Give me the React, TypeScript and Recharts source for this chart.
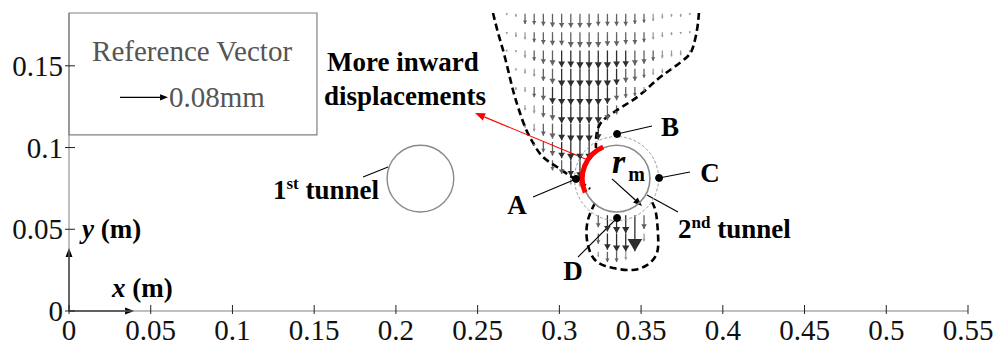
import React from 'react';
import {
  ComposedChart, XAxis, YAxis, Line, Scatter, ErrorBar,
  ReferenceLine, ReferenceDot, ReferenceArea,
} from 'recharts';

const W = 997;
const H = 349;
const X_MAX = 0.55;
const Y_MAX = 0.1823;
const PX_PER_M = (W - 69 - 29) / X_MAX;
const FONT = '"Liberation Serif", "Times New Roman", serif';

const X_TICKS = [0, 0.05, 0.1, 0.15, 0.2, 0.25, 0.3, 0.35, 0.4, 0.45, 0.5, 0.55];
const Y_TICKS = [0, 0.05, 0.1, 0.15];

// tunnels (m)
const TUNNEL_1 = { x: 0.215, y: 0.081 };
const TUNNEL_2 = { x: 0.335, y: 0.081 };
const TUNNEL_R = 0.0204;
const INFLUENCE_R = 0.0257;

// quiver grid (m) and vertical displacement (um, downward)
const COL_X = [0.2678, 0.2734, 0.279, 0.2846, 0.2902, 0.2958, 0.3014, 0.307, 0.3126, 0.3182, 0.3238,
  0.3294, 0.335, 0.3406, 0.3462, 0.3518, 0.3574, 0.363, 0.3686, 0.3742, 0.3798];
const ROW_Y = [0.1818, 0.1706, 0.1594, 0.1482, 0.137, 0.1258, 0.1146, 0.1034, 0.0922, 0.081,
  0.0698, 0.0586, 0.0474, 0.0362];

const _ = null;
const U_R0 = [2, 5, 17, 18, 20, 22, 23, 23, 23, 23, 20, 20, 20, 20, 17, 15, 12, 8, 5, 5, 2];
const U_R1 = [3, 8, 12, 17, 20, 22, 22, 25, 25, 25, 25, 23, 23, 20, 20, 17, 12, 8, 5, 3, 2];
const U_R2 = [2, 3, 12, 17, 22, 25, 28, 28, 30, 30, 30, 30, 28, 27, 25, 22, 17, 13, 10, 8, 3];
const U_R3 = [_, 3, 8, 13, 20, 25, 30, 30, 30, 30, 30, 30, 27, 23, 20, 15, 10, 7, 3, _, _];
const U_R4 = [_, 5, 8, 17, 22, 28, 30, 30, 30, 30, 30, 28, 22, 18, 15, 8, _, _, _, _, _];
const U_R5 = [_, _, 8, 13, 20, 25, 30, 30, 30, 30, 30, 25, 15, _, _, _, _, _, _, _, _];
const U_R6 = [_, _, 7, 13, 20, 25, 28, 30, 30, 30, 27, _, _, _, _, _, _, _, _, _, _];
const U_R7 = [_, _, _, 7, 17, 23, 27, 30, 30, 30, _, _, _, _, _, _, _, _, _, _, _];
const U_R8 = [_, _, _, _, _, 17, 23, 27, 30, _, _, _, _, _, _, _, _, _, _, _, _];
const U_R9 = [_, _, _, _, _, _, _, 10, 13, _, _, _, _, _, _, _, _, _, _, _, _];
const U_R10 = [_, _, _, _, _, _, _, _, _, _, _, _, _, _, _, _, _, _, _, _, _];
const U_R11 = [_, _, _, _, _, _, _, _, _, _, 20, 27, 30, 30, 60, 23, _, _, _, _, _];
const U_R12 = [_, _, _, _, _, _, _, _, _, _, 17, 27, 30, 30, _, 13, _, _, _, _, _];
const U_R13 = [_, _, _, _, _, _, _, _, _, _, 8, 17, 17, 13, _, _, _, _, _, _, _];
const U_ROWS = [U_R0, U_R1, U_R2, U_R3, U_R4, U_R5, U_R6, U_R7, U_R8, U_R9, U_R10, U_R11, U_R12, U_R13];

// reference vector: 80 um drawn as 48 px
const PX_PER_UM = 48 / 80;
const M_PER_UM = PX_PER_UM / PX_PER_M;

const LEFT_CONTOUR = [
  { x: 0.2594, y: 0.1823 }, { x: 0.2625, y: 0.1701 }, { x: 0.2655, y: 0.1597 }, { x: 0.2686, y: 0.1475 },
  { x: 0.2716, y: 0.1352 }, { x: 0.2747, y: 0.1248 }, { x: 0.279, y: 0.1126 }, { x: 0.2839, y: 0.1028 },
  { x: 0.29, y: 0.0942 }, { x: 0.2986, y: 0.0881 }, { x: 0.3065, y: 0.0826 }, { x: 0.3139, y: 0.0783 },
  { x: 0.3188, y: 0.0746 },
];
const RIGHT_CONTOUR = [
  { x: 0.3854, y: 0.1823 }, { x: 0.3842, y: 0.1719 }, { x: 0.3818, y: 0.1615 }, { x: 0.3781, y: 0.1554 },
  { x: 0.3695, y: 0.1487 }, { x: 0.3597, y: 0.1414 }, { x: 0.3493, y: 0.1322 }, { x: 0.3383, y: 0.1248 },
  { x: 0.3292, y: 0.1187 }, { x: 0.3249, y: 0.1144 }, { x: 0.323, y: 0.1095 }, { x: 0.3224, y: 0.1046 },
  { x: 0.3224, y: 0.0997 },
];
const BOTTOM_CONTOUR = [
  { x: 0.3218, y: 0.0661 }, { x: 0.3175, y: 0.0557 }, { x: 0.3169, y: 0.0434 }, { x: 0.3218, y: 0.0312 },
  { x: 0.3328, y: 0.0263 }, { x: 0.3445, y: 0.0251 }, { x: 0.3536, y: 0.0281 }, { x: 0.3597, y: 0.0355 },
  { x: 0.3603, y: 0.0477 }, { x: 0.3591, y: 0.06 }, { x: 0.3567, y: 0.0667 },
];

const POINTS = [
  { name: 'A', x: 0.3102, y: 0.0808, lx: 0.2839, ly: 0.0697, tx: 0.2741, ty: 0.0593 },
  { name: 'B', x: 0.3353, y: 0.1083, lx: 0.3567, ly: 0.1132, tx: 0.3677, ty: 0.1071 },
  { name: 'C', x: 0.361, y: 0.0814, lx: 0.3799, ly: 0.085, tx: 0.3922, ty: 0.0789 },
  { name: 'D', x: 0.3353, y: 0.0569, lx: 0.3114, ly: 0.033, tx: 0.3084, ty: 0.019 },
];

type Arrow = { x: number; y: number; err: number[]; u: number };
const arrows: Arrow[] = [];
U_ROWS.forEach((row, r) =>
  row.forEach((u, c) => {
    if (u == null) return;
    const len = u * M_PER_UM;
    arrows.push({ x: COL_X[c], y: ROW_Y[r] - len, err: [0, len], u });
  }),
);
const TIERS = [
  { color: '#2e2e2e', data: arrows.filter((a) => a.u >= 27) },
  { color: '#626262', data: arrows.filter((a) => a.u >= 15 && a.u < 27) },
  { color: '#9c9c9c', data: arrows.filter((a) => a.u < 15) },
];

const headShape = (color: string) => (p: any) => {
  const L = p.payload.u * PX_PER_UM;
  const h = Math.max(2, 0.34 * L);
  const w = h * 0.6;
  return <polygon points={`${p.cx},${p.cy} ${p.cx - w},${p.cy - h} ${p.cx + w},${p.cy - h}`} fill={color} />;
};

const arrowShape = (color: string, head: number, sw = 1) => (p: any) => {
  const { x1, y1, x2, y2 } = p;
  const dx = x2 - x1;
  const dy = y2 - y1;
  const len = Math.hypot(dx, dy) || 1;
  const ux = dx / len;
  const uy = dy / len;
  const bx = x2 - ux * head;
  const by = y2 - uy * head;
  const hw = head * 0.38;
  return (
    <g>
      <line x1={x1} y1={y1} x2={bx} y2={by} stroke={color} strokeWidth={sw} />
      <polygon points={`${x2},${y2} ${bx - uy * hw},${by + ux * hw} ${bx + uy * hw},${by - ux * hw}`} fill={color} />
    </g>
  );
};

const note = (key: string, x: number, y: number, content: React.ReactNode, anchor = 'middle', size = 27, fill = '#000', weight = 'bold') => (
  <ReferenceDot
    key={key}
    x={x}
    y={y}
    r={0}
    ifOverflow="visible"
    shape={(p: any) => (
      <text x={p.cx} y={p.cy} textAnchor={anchor} fontFamily={FONT} fontSize={size} fontWeight={weight} fill={fill}>
        {content}
      </text>
    )}
  />
);

const BottomTick = (p: any) => (
  <g>
    <line x1={p.x} x2={p.x} y1={p.y - 6} y2={p.y + 3} stroke="#222" />
    <text x={p.x} y={p.y + 29} textAnchor="middle" fontFamily={FONT} fontSize={29} fill="#111">{p.payload.value}</text>
  </g>
);
const LeftTick = (p: any) => (
  <g>
    <line x1={p.x - 4} x2={p.x + 6} y1={p.y} y2={p.y} stroke="#222" />
    <text x={p.x - 6} y={p.y + 10} textAnchor="end" fontFamily={FONT} fontSize={29} fill="#111">{p.payload.value}</text>
  </g>
);
const TopTick = (p: any) => <line x1={p.x} x2={p.x} y1={p.y} y2={p.y + 6} stroke="#222" />;
const RightTick = (p: any) => <line x1={p.x} x2={p.x - 6} y1={p.y} y2={p.y} stroke="#222" />;

export default function App() {
  const pxR = TUNNEL_R * PX_PER_M;
  const pxInf = INFLUENCE_R * PX_PER_M;
  return (
    <div style={{ position: 'absolute', left: 0, top: 0, width: W, height: H, background: '#fff' }}>
      <ComposedChart width={W} height={H} margin={{ top: 13, right: 29, bottom: 0, left: 0 }}>
        <XAxis type="number" dataKey="x" domain={[0, X_MAX]} ticks={X_TICKS} allowDataOverflow height={38}
          tickSize={0} tickMargin={0} tickLine={false} axisLine={{ stroke: '#808080' }} tick={BottomTick} interval={0} />
        <XAxis xAxisId="top" orientation="top" type="number" dataKey="x" domain={[0, X_MAX]} ticks={X_TICKS} allowDataOverflow height={0}
          tickSize={0} tickMargin={0} tickLine={false} axisLine={{ stroke: '#000' }} tick={TopTick} interval={0} />
        <YAxis type="number" dataKey="y" domain={[0, Y_MAX]} ticks={Y_TICKS} allowDataOverflow width={69}
          tickSize={0} tickMargin={0} tickLine={false} axisLine={{ stroke: '#808080' }} tick={LeftTick} interval={0} />
        <YAxis yAxisId="right" orientation="right" type="number" dataKey="y" domain={[0, Y_MAX]} ticks={Y_TICKS} allowDataOverflow width={0}
          tickSize={0} tickMargin={0} tickLine={false} axisLine={{ stroke: '#000' }} tick={RightTick} interval={0} />

        <ReferenceArea x1={0} x2={0.1517} y1={0.1077} y2={Y_MAX} fill="#fff" fillOpacity={1} stroke="#808080" strokeWidth={1.2} ifOverflow="visible" />

        {TIERS.map((t, i) => (
          <Scatter key={i} data={t.data} dataKey="y" isAnimationActive={false} shape={headShape(t.color)}>
            <ErrorBar dataKey="err" direction="y" width={0} stroke={t.color} strokeWidth={1.3} />
          </Scatter>
        ))}

        {[LEFT_CONTOUR, RIGHT_CONTOUR, BOTTOM_CONTOUR].map((c, i) => (
          <Line key={i} data={c} dataKey="y" type="natural" stroke="#000" strokeWidth={2.6} strokeDasharray="7 4"
            dot={false} activeDot={false} isAnimationActive={false} />
        ))}

        <ReferenceDot x={TUNNEL_1.x} y={TUNNEL_1.y} r={pxR} fill="none" stroke="#8a8a8a" strokeWidth={1.4} ifOverflow="visible" />
        <ReferenceDot x={TUNNEL_2.x} y={TUNNEL_2.y} r={pxR} fill="none" stroke="#8a8a8a" strokeWidth={1.6} ifOverflow="visible" />
        <ReferenceDot x={TUNNEL_2.x} y={TUNNEL_2.y} r={pxInf} fill="none" stroke="#9a9a9a" strokeWidth={1} strokeDasharray="3 2" ifOverflow="visible" />
        <ReferenceDot
          x={TUNNEL_2.x} y={TUNNEL_2.y} r={0} ifOverflow="visible"
          shape={(p: any) => {
            const r = pxR + 1;
            const a0 = (113 * Math.PI) / 180;
            const a1 = (204 * Math.PI) / 180;
            const sx = p.cx + r * Math.cos(a0);
            const sy = p.cy - r * Math.sin(a0);
            const ex = p.cx + r * Math.cos(a1);
            const ey = p.cy - r * Math.sin(a1);
            return <path d={`M${sx},${sy} A${r},${r} 0 0 0 ${ex},${ey}`} fill="none" stroke="#ff0000" strokeWidth={5} />;
          }}
        />

        {POINTS.map((pt) => (
          <ReferenceLine key={'l' + pt.name} segment={[{ x: pt.x, y: pt.y }, { x: pt.lx, y: pt.ly }]} stroke="#000" strokeWidth={1.1} ifOverflow="visible" />
        ))}
        {POINTS.map((pt) => (
          <ReferenceDot key={'d' + pt.name} x={pt.x} y={pt.y} r={3.5} fill="#000" stroke="#000" ifOverflow="visible" />
        ))}
        {POINTS.map((pt) => note('t' + pt.name, pt.tx, pt.ty, pt.name))}

        <ReferenceLine segment={[{ x: 0.1799, y: 0.082 }, { x: 0.1952, y: 0.0881 }]} stroke="#000" strokeWidth={1.1} ifOverflow="visible" />
        <ReferenceLine segment={[{ x: 0.3536, y: 0.071 }, { x: 0.3726, y: 0.0606 }]} stroke="#000" strokeWidth={1.1} ifOverflow="visible" />
        <ReferenceLine segment={[{ x: 0.3322, y: 0.0808 }, { x: 0.3506, y: 0.0642 }]} ifOverflow="visible" shape={arrowShape('#000', 9, 1.2)} />
        <ReferenceLine segment={[{ x: 0.3175, y: 0.0924 }, { x: 0.2484, y: 0.1211 }]} ifOverflow="visible" shape={arrowShape('#ff0000', 10, 1.1)} />
        <ReferenceLine segment={[{ x: 0, y: 0 }, { x: 0, y: 0.0386 }]} ifOverflow="visible" shape={arrowShape('#000', 9, 1.4)} />
        <ReferenceLine segment={[{ x: 0, y: 0 }, { x: 0.0398, y: 0 }]} ifOverflow="visible" shape={arrowShape('#000', 9, 1.4)} />
        <ReferenceLine segment={[{ x: 0.0312, y: 0.1307 }, { x: 0.0606, y: 0.1307 }]} ifOverflow="visible" shape={arrowShape('#000', 8, 1.2)} />

        {note('ref', 0.0753, 0.153, 'Reference Vector', 'middle', 29, '#555', 'normal')}
        {note('refv', 0.0612, 0.1248, '0.08mm', 'start', 29, '#555', 'normal')}
        {note('more', 0.2043, 0.1468, 'More inward')}
        {note('disp', 0.2056, 0.126, 'displacements')}
        {note('t1', 0.1248, 0.0685, <>1<tspan fontSize={17} dy={-10}>st</tspan><tspan dy={10}> tunnel</tspan></>, 'start')}
        {note('t2', 0.3726, 0.0447, <>2<tspan fontSize={17} dy={-10}>nd</tspan><tspan dy={10}> tunnel</tspan></>, 'start')}
        {note('r', 0.3322, 0.0844, <tspan fontStyle="italic">r</tspan>, 'start', 34)}
        {note('m', 0.3422, 0.0795, 'm', 'start', 20)}
        {note('ylab', 0.008, 0.0447, <><tspan fontStyle="italic">y</tspan> (m)</>, 'start')}
        {note('xlab', 0.0263, 0.0086, <><tspan fontStyle="italic">x</tspan> (m)</>, 'start')}
      </ComposedChart>
    </div>
  );
}
